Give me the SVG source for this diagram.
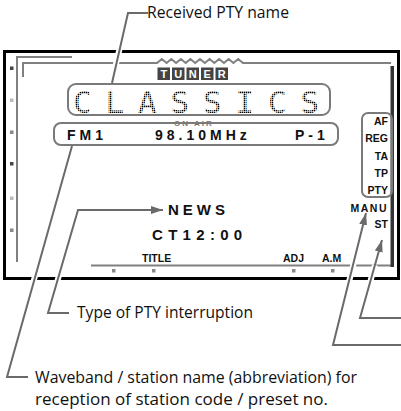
<svg xmlns="http://www.w3.org/2000/svg" width="401" height="411" viewBox="0 0 401 411">
<style>
.lead{stroke:#6a6a6a;stroke-width:2;fill:none;stroke-linejoin:miter}
.halo{stroke:#fff;stroke-width:6;fill:none}
.inner{stroke:#808080;stroke-width:2;fill:none}
.box{stroke:#7a7a7a;stroke-width:2;fill:none}
.lbl{font-family:"Open Sans","Liberation Sans",sans-serif;font-size:16px;fill:#111}
.lcd{font-family:"Liberation Sans",Arial,sans-serif;font-weight:bold;fill:#111}
.sm{font-family:"Liberation Sans",Arial,sans-serif;font-weight:bold;font-size:10.5px;fill:#111;text-anchor:end}
.tun{font-family:"Liberation Sans",Arial,sans-serif;font-weight:bold;font-size:11px;fill:#fff;text-anchor:middle}
</style>
<defs>
<pattern id="dots" width="2" height="2" patternUnits="userSpaceOnUse"><rect x="0" y="0" width="1.4" height="1.4" fill="#000"/></pattern>
<marker id="arr" markerWidth="12" markerHeight="8" refX="12" refY="4" orient="auto" markerUnits="userSpaceOnUse"><path d="M0,0 L12,4 L0,8 z" fill="#6a6a6a"/></marker>
</defs>
<rect width="401" height="411" fill="#fff"/>
<g id="display">
<rect x="4.5" y="51.5" width="394" height="227" fill="none" stroke="#000" stroke-width="3"/>
<path class="inner" d="M72,57 H17 V262"/>
<path class="inner" stroke-width="1.5" d="M23,77 V63 H157 L161.8,59 L166.6,63 L171.3,59 L176.1,63 L180.9,59 L185.7,63 L190.4,59 L195.2,63 L200,59 L204.8,63 L209.6,59 L214.3,63 L219.1,59 L223.9,63 L228.7,59 L233.4,63 L238.2,59 L243,63 H391"/>
<path class="inner" d="M91,265.5 H392"/>
<rect x="390.5" y="66" width="3.5" height="201" fill="#333"/>
<rect x="10" y="66.5" width="3.5" height="3.5" fill="#444"/>
<rect x="10" y="98.5" width="3.5" height="3.5" fill="#bbb"/>
<rect x="10" y="130.5" width="3.5" height="3.5" fill="#888"/>
<rect x="10" y="162" width="3.5" height="3.5" fill="#444"/>
<rect x="10" y="196.5" width="3.5" height="3.5" fill="#bbb"/>
<rect x="10" y="228.5" width="3.5" height="3.5" fill="#888"/>
<rect x="112" y="269" width="3.5" height="3.5" fill="#888"/>
<rect x="152" y="269" width="3.5" height="3.5" fill="#888"/>
<rect x="292" y="269" width="3.5" height="3.5" fill="#888"/>
<rect x="331" y="269" width="3.5" height="3.5" fill="#888"/>
</g>
<g id="tuner">
<rect x="157.5" y="67.5" width="12.5" height="12.5" fill="#444"/>
<rect x="172" y="67.5" width="12.5" height="12.5" fill="#444"/>
<rect x="186.5" y="67.5" width="12.5" height="12.5" fill="#444"/>
<rect x="201" y="67.5" width="12.5" height="12.5" fill="#444"/>
<rect x="215.5" y="67.5" width="12.5" height="12.5" fill="#444"/>
<text class="tun" x="163.75" y="78">T</text>
<text class="tun" x="178.25" y="78">U</text>
<text class="tun" x="192.75" y="78">N</text>
<text class="tun" x="207.25" y="78">E</text>
<text class="tun" x="221.75" y="78">R</text>
</g>
<g id="pty-name">
<rect class="box" x="68" y="84" width="262" height="31" rx="8"/>
<text x="73 105.5 138 170.5 203 235.5 268 300.5" y="113" font-family="DejaVu Sans Mono,monospace" font-size="31" fill="url(#dots)">CLASSICS</text>
</g>
<g id="station">
<text x="174" y="126" font-family="Liberation Sans,Arial,sans-serif" font-weight="bold" font-size="8" fill="#777" letter-spacing="2">ON AIR</text>
<rect class="box" x="54" y="123" width="284" height="22" rx="7" fill="#fff"/>
<text class="lcd" x="67" y="140" font-size="14" letter-spacing="4">FM1</text>
<text class="lcd" x="155" y="140" font-size="14" letter-spacing="4">98.10MHz</text>
<text class="lcd" x="295" y="140" font-size="14" letter-spacing="4">P-1</text>
</g>
<g id="flags">
<rect class="box" x="362" y="113" width="30" height="84" rx="6"/>
<text class="sm" x="388" y="125">AF</text>
<text class="sm" x="388" y="142">REG</text>
<text class="sm" x="388" y="160">TA</text>
<text class="sm" x="388" y="177">TP</text>
<text class="sm" x="388" y="194">PTY</text>
<text class="sm" x="388" y="212" font-size="11.5" letter-spacing="1.5">MANU</text>
<text class="sm" x="388" y="228" font-size="11.5">ST</text>
</g>
<g id="news">
<text class="lcd" x="168" y="215" font-size="15" letter-spacing="4">NEWS</text>
<text class="lcd" x="152" y="240" font-size="15" letter-spacing="5.3" fill="#444">CT12:00</text>
<text class="lcd" x="142" y="262" font-size="10.5">TITLE</text>
<text class="lcd" x="283" y="262" font-size="10.5">ADJ</text>
<text class="lcd" x="322" y="262" font-size="10.5">A.M</text>
</g>
<g id="connectors">
<path class="halo" d="M148,13 H128 L115,68"/>
<path class="halo" d="M69,313 H48 L70,238"/>
<path class="halo" d="M28,377 H7 L45,240"/>
<path class="halo" d="M401,345 H333 L355,258"/>
<path class="halo" d="M401,318 H360 L375,265"/>
<path class="lead" d="M148,13 H128 L112,83"/>
<path class="lead" d="M69,313 H48 L78,210 H163" marker-end="url(#arr)"/>
<path class="lead" d="M28,377 H7 L72,146"/>
<path class="lead" d="M401,345 H333 L366,213" marker-end="url(#arr)"/>
<path class="lead" d="M401,318 H360 L382,240" marker-end="url(#arr)"/>
</g>
<g id="labels">
<text class="lbl" x="147" y="18" textLength="142" lengthAdjust="spacingAndGlyphs">Received PTY name</text>
<text class="lbl" x="77" y="318" textLength="176" lengthAdjust="spacingAndGlyphs">Type of PTY interruption</text>
<text class="lbl" x="35" y="383" textLength="322" lengthAdjust="spacingAndGlyphs">Waveband / station name (abbreviation) for</text>
<text class="lbl" x="35" y="405" textLength="293" lengthAdjust="spacingAndGlyphs">reception of station code / preset no.</text>
</g>
</svg>
